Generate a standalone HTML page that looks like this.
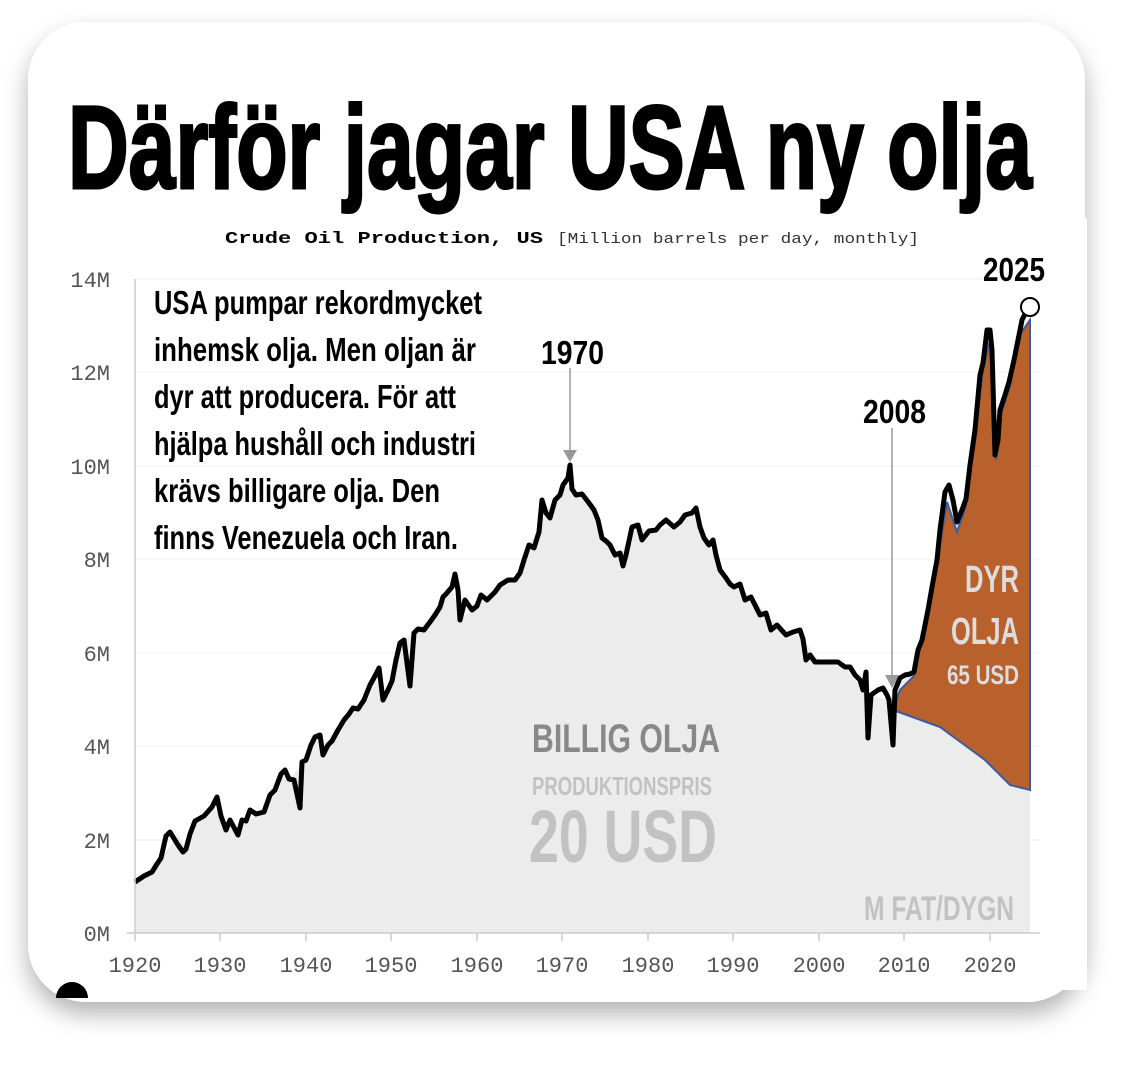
<!DOCTYPE html>
<html><head><meta charset="utf-8"><style>
html,body{margin:0;padding:0;background:#fff;}
svg{display:block}
.c{font-family:"Liberation Sans",sans-serif;font-weight:bold}
.m{font-family:"Liberation Mono",monospace}
</style></head><body>
<svg width="1138" height="1068" viewBox="0 0 1138 1068" xmlns="http://www.w3.org/2000/svg">
<defs>
<filter id="sh" x="-10%" y="-10%" width="120%" height="125%">
<feDropShadow dx="0" dy="12" stdDeviation="12" flood-color="#000" flood-opacity="0.3"/>
</filter>
</defs>
<rect x="28" y="22" width="1057" height="980" rx="58" fill="#fff" filter="url(#sh)"/>
<text class="c" x="68" y="188" font-size="118" stroke="#000" stroke-width="3" textLength="964" lengthAdjust="spacingAndGlyphs">Därför jagar USA ny olja</text>
<rect x="50" y="218" width="1037" height="772" fill="#fff"/>
<text x="225" y="243" font-size="17" class="m" font-weight="bold" textLength="318" lengthAdjust="spacingAndGlyphs">Crude Oil Production, US</text>
<text x="557" y="243" font-size="15" class="m" fill="#333" textLength="362" lengthAdjust="spacingAndGlyphs">[Million barrels per day, monthly]</text>
<g stroke="#f0f0f0" stroke-width="1">
<line x1="135" y1="279" x2="1040" y2="279"/><line x1="135" y1="372" x2="1040" y2="372"/>
<line x1="135" y1="466" x2="1040" y2="466"/><line x1="135" y1="559" x2="1040" y2="559"/>
<line x1="135" y1="653" x2="1040" y2="653"/><line x1="135" y1="746" x2="1040" y2="746"/>
<line x1="135" y1="840" x2="1040" y2="840"/>
</g>
<g class="m" font-size="22" fill="#555" text-anchor="end">
<text x="110" y="287">14M</text><text x="110" y="380">12M</text><text x="110" y="474">10M</text>
<text x="110" y="567">8M</text><text x="110" y="661">6M</text><text x="110" y="754">4M</text>
<text x="110" y="848">2M</text><text x="110" y="941">0M</text>
</g>
<polygon fill="#ececec" points="135,933 135,882 152,872 161,858 178,835 186,849 195,821 212,807 221,816 238,835 246,821 264,812 281,774 289,779 306,760 315,737 323,755 332,741 349,714 358,709 375,676 383,700 392,681 400,643 418,629 435,615 443,597 452,587 460,620 477,606 495,592 520,573 529,545 546,513 563,485 572,489 589,503 606,541 615,555 623,550 632,527 649,531 674,527 692,513 700,527 709,545 726,578 734,587 751,597 777,625 803,639 820,662 845,667 863,690 871,695 889,700 897,686 914,672 932,587 949,494 957,522 966,499 983,363 990,335 995,466 1000,410 1009,382 1018,330 1030,317 1030,933"/>
<polygon fill="#b8612c" stroke="#3b5ba0" stroke-width="2" points="893,710 900,690 914,676 932,592 947,502 957,532 966,506 983,370 990,340 996,460 1001,414 1010,386 1019,336 1030,320 1030,790 1010,785 985,760 940,727"/>
<polyline fill="none" stroke="#000" stroke-width="5" stroke-linejoin="round" points="135,882 144,876 152,872 157,864 161,858 166,836 170,832 178,845 183,852 186,849 190,834 195,821 204,816 212,807 217,797 221,816 226,830 230,820 238,835 242,820 246,821 250,810 256,814 264,812 270,795 275,790 281,774 285,770 289,779 294,780 300,808 302,762 306,760 311,745 315,737 320,735 323,755 328,745 332,741 338,730 344,720 349,714 353,708 358,709 364,700 370,685 375,676 379,668 383,700 388,690 392,681 396,660 400,643 404,640 410,686 414,633 418,629 424,630 430,622 435,615 440,607 443,597 446,594 452,587 455,574 458,590 460,620 465,600 472,610 477,606 481,595 487,600 495,592 500,585 508,580 515,580 520,573 524,560 529,545 534,548 539,532 542,500 546,513 550,518 555,500 560,495 563,485 568,478 570,465 572,489 576,495 582,494 589,503 594,510 598,520 602,538 606,541 610,545 615,555 620,553 623,566 626,555 632,527 638,525 642,540 649,531 656,530 660,525 666,520 674,527 680,522 685,515 692,513 696,508 700,527 704,538 709,545 713,540 716,555 720,570 726,578 730,584 734,587 740,584 745,600 751,597 755,605 760,615 766,613 771,630 777,625 786,635 793,632 800,630 803,639 806,660 810,655 815,662 820,662 830,662 838,662 845,667 850,667 855,675 860,680 863,690 866,672 868,738 871,695 878,690 883,688 887,695 889,700 893,745 895,690 900,678 905,675 910,674 914,672 918,650 922,640 928,610 932,587 937,560 940,530 945,492 949,485 953,500 957,522 962,510 966,499 970,465 975,430 980,375 983,363 987,330 990,330 992,350 995,455 998,440 1000,410 1005,395 1009,382 1014,360 1018,340 1022,320 1026,312 1030,312"/>
<circle cx="1030" cy="307" r="9" fill="#fff" stroke="#000" stroke-width="2"/>
<line x1="135" y1="279" x2="135" y2="933" stroke="#ccc" stroke-width="1.5"/>
<line x1="127" y1="933" x2="1040" y2="933" stroke="#ccc" stroke-width="1.5"/>
<g stroke="#ccc" stroke-width="1.5">
<line x1="135" y1="933" x2="135" y2="941"/><line x1="220" y1="933" x2="220" y2="941"/><line x1="306" y1="933" x2="306" y2="941"/><line x1="391" y1="933" x2="391" y2="941"/><line x1="477" y1="933" x2="477" y2="941"/><line x1="562" y1="933" x2="562" y2="941"/><line x1="648" y1="933" x2="648" y2="941"/><line x1="733" y1="933" x2="733" y2="941"/><line x1="819" y1="933" x2="819" y2="941"/><line x1="904" y1="933" x2="904" y2="941"/><line x1="990" y1="933" x2="990" y2="941"/>
</g>
<g class="m" font-size="22" fill="#555" text-anchor="middle">
<text x="135" y="972">1920</text><text x="220" y="972">1930</text><text x="306" y="972">1940</text><text x="391" y="972">1950</text><text x="477" y="972">1960</text><text x="562" y="972">1970</text><text x="648" y="972">1980</text><text x="733" y="972">1990</text><text x="819" y="972">2000</text><text x="904" y="972">2010</text><text x="990" y="972">2020</text>
</g>
<g class="c" font-size="33" fill="#000">
<text x="154" y="314" textLength="328" lengthAdjust="spacingAndGlyphs">USA pumpar rekordmycket</text>
<text x="154" y="361" textLength="322" lengthAdjust="spacingAndGlyphs">inhemsk olja. Men oljan är</text>
<text x="154" y="408" textLength="302" lengthAdjust="spacingAndGlyphs">dyr att producera. För att</text>
<text x="154" y="455" textLength="322" lengthAdjust="spacingAndGlyphs">hjälpa hushåll och industri</text>
<text x="154" y="502" textLength="286" lengthAdjust="spacingAndGlyphs">krävs billigare olja. Den</text>
<text x="154" y="549" textLength="304" lengthAdjust="spacingAndGlyphs">finns Venezuela och Iran.</text>
<text x="541" y="364" textLength="63" lengthAdjust="spacingAndGlyphs">1970</text>
<text x="863" y="423" textLength="63" lengthAdjust="spacingAndGlyphs">2008</text>
<text x="983" y="281" textLength="62" lengthAdjust="spacingAndGlyphs">2025</text>
</g>
<line x1="570" y1="368" x2="570" y2="452" stroke="#999" stroke-width="1.5"/>
<polygon points="563,450 577,450 570,462" fill="#999"/>
<line x1="892" y1="428" x2="892" y2="677" stroke="#999" stroke-width="1.5"/>
<polygon points="885,675 899,675 892,688" fill="#999"/>
<g class="c" text-anchor="start">
<text x="532" y="752" font-size="40" fill="#888" textLength="188" lengthAdjust="spacingAndGlyphs">BILLIG OLJA</text>
<text x="532" y="795" font-size="26" fill="#c2c2c2" textLength="180" lengthAdjust="spacingAndGlyphs">PRODUKTIONSPRIS</text>
<text x="529" y="862" font-size="74" fill="#c2c2c2" textLength="188" lengthAdjust="spacingAndGlyphs">20 USD</text>
<text x="864" y="920" font-size="34" fill="#c2c2c2" textLength="150" lengthAdjust="spacingAndGlyphs">M FAT/DYGN</text>
<text x="965" y="592" font-size="38" fill="#ddd" textLength="54" lengthAdjust="spacingAndGlyphs">DYR</text>
<text x="951" y="644" font-size="38" fill="#ddd" textLength="68" lengthAdjust="spacingAndGlyphs">OLJA</text>
<text x="947" y="684" font-size="27" fill="#ddd" textLength="72" lengthAdjust="spacingAndGlyphs">65 USD</text>
</g>
<path d="M56,998 a16,16 0 0 1 32,0 z" fill="#000"/>
</svg>
</body></html>
